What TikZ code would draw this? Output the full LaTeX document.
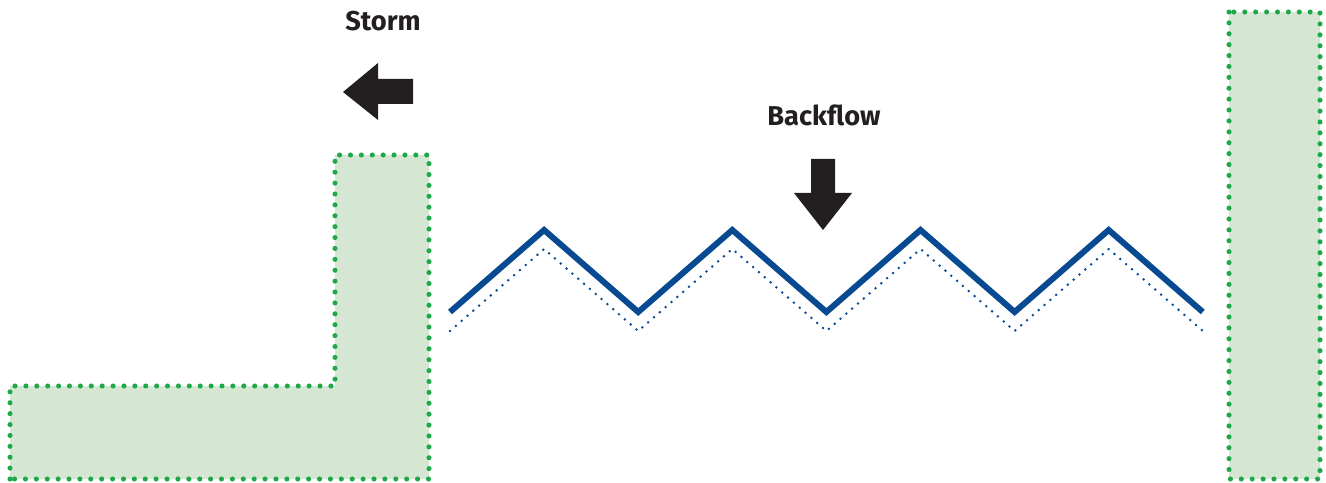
\documentclass[tikz,border=0pt]{standalone}
\usepackage{fontspec}
\setmainfont{Fira Sans}
\usetikzlibrary{calc}
\definecolor{wallgreen}{RGB}{30,168,72}
\definecolor{wallfill}{RGB}{213,231,211}
\definecolor{gateblue}{RGB}{8,74,146}
\definecolor{arrowdark}{RGB}{35,31,32}
\begin{document}
\begin{tikzpicture}[x=0.02cm,y=-0.02cm]
      %styles for walls, gate and arrows
      \tikzset{
      wall/.style={fill=wallfill, draw=wallgreen, line width=2.9pt,
        line cap=round, dash pattern=on 0pt off 6.2pt},
      gate/.style={draw=gateblue, line width=3.4pt, line join=miter},
      gateback/.style={draw=gateblue, line width=1.6pt, line cap=round,
        dash pattern=on 0pt off 4.4pt},
      flowarrow/.style={fill=arrowdark},
      label/.style={font=\bfseries\fontsize{15.5}{18}\selectfont, text=arrowdark},
      }
      \useasboundingbox (0,0) rectangle (1326,483);

      %Left wall - L shape
      \draw[wall] (10,479) -- (10,386) -- (335,386) -- (335,155)
        -- (429,155) -- (429,479) -- cycle;

      %Right wall
      \draw[wall] (1229,12) rectangle (1320,479);

      %Gate - zigzag and its dotted back edge
      \foreach \i in {0,...,8} {
        \coordinate (z\i) at ({450+94.1*\i},{isodd(\i) ? 230 : 312});
        \coordinate (b\i) at ($(z\i)+(0,19)$);
      }
      \draw[gate] (z0) -- (z1) -- (z2) -- (z3) -- (z4) -- (z5) -- (z6) -- (z7) -- (z8);
      \draw[gateback] (b0) -- (b1) -- (b2) -- (b3) -- (b4) -- (b5) -- (b6) -- (b7) -- (b8);

      %Storm
      \node[label] (storm) at (383,21) {Storm};
      \fill[flowarrow] (343,92) -- (378,63) -- (378,79) -- (413,79)
        -- (413,104) -- (378,104) -- (378,120) -- cycle;

      %Backflow
      \node[label] (backflow) at (824,115) {Backflow};
      \fill[flowarrow] (823,230) -- (852,193) -- (835,193) -- (835,159)
        -- (811,159) -- (811,193) -- (794,193) -- cycle;
\end{tikzpicture}
\end{document}
